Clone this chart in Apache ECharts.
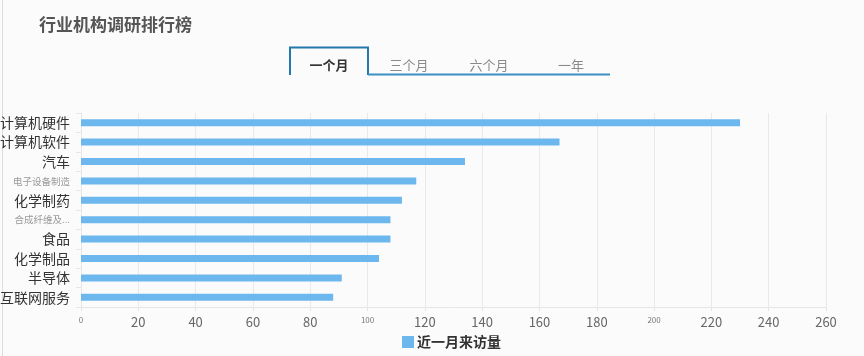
<!DOCTYPE html>
<html>
<head>
<meta charset="utf-8">
<script src="https://cdn.jsdelivr.net/npm/echarts@6/dist/echarts.min.js"></script>
<style>
html,body{margin:0;padding:0;background:#fbfbfb;}
#c{width:864px;height:356px;}
</style>
</head>
<body>
<div id="c"></div>
<script>
const categories = ['计算机硬件','计算机软件','汽车','电子设备制造','化学制药','合成纤维及...','食品','化学制品','半导体','互联网服务'];
const visits = [230, 167, 134, 117, 112, 108, 108, 104, 91, 88];
const seriesName = '近一月来访量';
const tabLabels = ['一个月','三个月','六个月','一年'];
const tabCenters = [329, 409, 489, 571];

const chart = echarts.init(document.getElementById('c'), null, {renderer:'canvas'});
const font = '"Noto Sans CJK SC","Noto Sans",sans-serif';

const graphics = [
  {type:'line', shape:{x1:2.5,y1:0,x2:2.5,y2:356}, style:{stroke:'#dcdcdc',lineWidth:1}},
  {type:'polyline', shape:{points:[[290,75],[290,47.5],[368,47.5],[368,75]]}, style:{stroke:'#2379ad',lineWidth:2,fill:null}},
  {type:'line', shape:{x1:368,y1:74.5,x2:610,y2:74.5}, style:{stroke:'#3b8fc2',lineWidth:2}}
];
tabLabels.forEach((t,i)=>{
  graphics.push({type:'text', x:tabCenters[i], y:65, style:{text:t, fill: i===0?'#333':'#8a8a8a', font:(i===0?'bold ':'')+'13px '+font, textAlign:'center', textVerticalAlign:'middle'}});
});

chart.setOption({
  backgroundColor:'#fbfbfb',
  animation:false,
  title:{text:'行业机构调研排行榜', left:34, top:11, textStyle:{fontSize:17, fontWeight:'bold', color:'#555', fontFamily:font}},
  graphic: graphics,
  legend:{left:397, top:330, itemWidth:12, itemHeight:12, itemGap:6, icon:'rect',
    textStyle:{fontSize:14, fontWeight:'bold', color:'#333', fontFamily:font, padding:[0,0,0,-2]},
    data:[seriesName]},
  grid:{left:81, right:38, top:113, bottom:49, containLabel:false, outerBoundsMode:'none'},
  xAxis:{type:'value', min:0, max:260, interval:20,
    axisLine:{show:true, lineStyle:{color:'#e6e6e6'}},
    axisTick:{show:true, length:4, lineStyle:{color:'#e6e6e6'}},
    splitLine:{show:true, lineStyle:{color:'#e9e9e9'}},
    axisLabel:{margin:9, color:'#666', fontFamily:font,
      formatter:(v)=> v % 100 === 0 ? '{s|'+v+'}' : '{n|'+v+'}',
      rich:{s:{fontSize:8, color:'#777', fontFamily:font}, n:{fontSize:13, color:'#666', fontFamily:font}}}
  },
  yAxis:{type:'category', inverse:true, data:categories,
    axisLine:{show:true, lineStyle:{color:'#e6e6e6'}},
    axisTick:{show:true, length:5, lineStyle:{color:'#e6e6e6'}},
    axisLabel:{margin:11, fontFamily:font,
      formatter:(v)=> v.length >= 6 ? '{s|'+v+'}' : '{n|'+v+'}',
      rich:{s:{fontSize:9.5, color:'#999', fontFamily:font}, n:{fontSize:14, color:'#333', fontFamily:font}}}
  },
  series:[{name:seriesName, type:'bar', data:visits, barWidth:7, itemStyle:{color:'#6cb7ed'}}]
});
</script>
</body>
</html>
